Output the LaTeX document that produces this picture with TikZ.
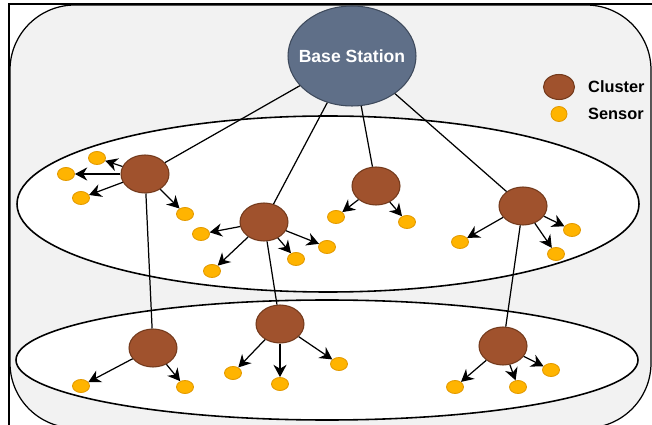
\documentclass[tikz,border=0pt]{standalone}
\usepackage{fontspec}
\setmainfont{Liberation Sans}
\usetikzlibrary{shapes.geometric,arrows.meta}

\definecolor{panelgray}{HTML}{F2F2F2}
\definecolor{stationfill}{HTML}{5F6F88}
\definecolor{stationedge}{HTML}{3E4A5C}
\definecolor{clusterfill}{HTML}{A0522D}
\definecolor{clusteredge}{HTML}{743A1C}
\definecolor{sensorfill}{HTML}{FFB400}
\definecolor{sensoredge}{HTML}{E39A00}

\tikzset{
  station/.style={ellipse, draw=stationedge, fill=stationfill, line width=0.6pt,
    minimum width=2.56cm, minimum height=2.0cm, inner sep=0pt},
  stationtext/.style={text=white, font=\bfseries},
  cluster/.style={ellipse, draw=clusteredge, fill=clusterfill, line width=0.6pt,
    minimum width=0.96cm, minimum height=0.76cm, inner sep=0pt},
  sensor/.style={ellipse, draw=sensoredge, fill=sensorfill, line width=0.5pt,
    minimum width=0.34cm, minimum height=0.26cm, inner sep=0pt},
  legendtext/.style={anchor=west, font=\fontsize{9.3}{11}\selectfont\bfseries},
  zone/.style={draw=black, line width=0.9pt, fill=white},
  link/.style={black, line width=0.7pt},
  push/.style={-{Stealth[length=7pt,width=7.5pt]}, black, line width=0.7pt}
}

\begin{document}
\begin{tikzpicture}[x=0.02cm, y=-0.02cm]
  \useasboundingbox (0,0) rectangle (652,425);

  % Panel
  \draw[black, line width=0.7pt, fill=panelgray, rounded corners=1.3cm] (10,5) rectangle (651,428);
  \draw[black, line width=0.7pt] (9,425) -- (9,4) -- (652,4);

  % Network levels
  \draw[zone] (328,204) ellipse [x radius=311, y radius=88];
  \draw[zone] (327,360) ellipse [x radius=311, y radius=60];

  % Base station
  \node[station, label={[stationtext]center:Base Station}] (bs) at (352,56) {};

  % Legend
  \node[cluster, minimum width=0.62cm, minimum height=0.5cm] (keycluster) at (559,87) {};
  \node[legendtext] at (582,87) {Cluster};
  \node[sensor, minimum width=0.32cm, minimum height=0.3cm] (keysensor) at (559,114) {};
  \node[legendtext] at (582,114) {Sensor};

  % Cluster heads
  \node[cluster] (c1) at (145,174) {};
  \node[cluster] (c2) at (264,222) {};
  \node[cluster] (c3) at (376,186) {};
  \node[cluster] (c4) at (523,206) {};
  \node[cluster] (c5) at (153,348) {};
  \node[cluster] (c6) at (280,324) {};
  \node[cluster] (c7) at (503,346) {};

  % Links between levels
  \foreach \a/\b in {bs/c1, bs/c2, bs/c3, bs/c4, c1/c5, c2/c6, c4/c7}
    \draw[link] (\a) -- (\b);

  % Sensors
  \foreach \name/\x/\y/\head in {
      s1a/97/158/c1, s1b/66/174/c1, s1c/81/198/c1, s1d/185/214/c1,
      s2a/201/234/c2, s2b/212/271/c2, s2c/296/259/c2, s2d/327/247/c2,
      s3a/336/217/c3, s3b/407/222/c3,
      s4a/460/242/c4, s4b/556/254/c4, s4c/572/230/c4,
      s5a/81/386/c5, s5b/185/387/c5,
      s6a/233/373/c6, s6b/280/384/c6, s6c/339/364/c6,
      s7a/455/387/c7, s7b/518/387/c7, s7c/551/370/c7} {
    \node[sensor] (\name) at (\x,\y) {};
    \draw[push] (\head) -- (\name);
  }
\end{tikzpicture}
\end{document}
